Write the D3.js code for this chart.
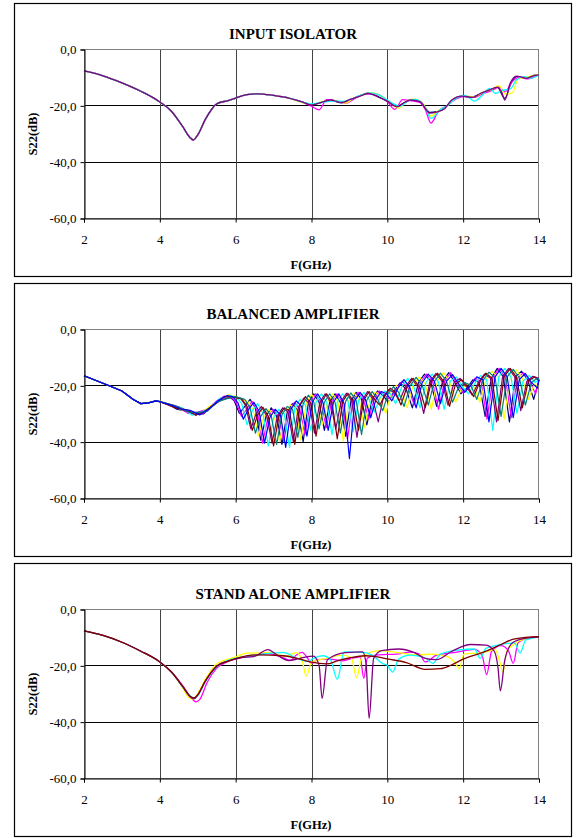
<!DOCTYPE html>
<html>
<head>
<meta charset="UTF-8">
<script src="https://cdn.jsdelivr.net/npm/d3@7/dist/d3.min.js"></script>
<style>
  body { margin: 0; background: #fff; }
  svg { display: block; }
  .tick text { font-family: "Liberation Serif", "Times New Roman", serif; font-size: 13px; fill: #000; }
  .ttl { font-family: "Liberation Serif", serif; font-weight: bold; font-size: 15px; }
  .lbl { font-family: "Liberation Serif", serif; font-weight: bold; font-size: 12.5px; }
</style>
</head>
<body>
<script>
// axis ticks
var xTicks = [2, 4, 6, 8, 10, 12, 14];
var yTicks = [0, -20, -40, -60];
var titles = ["INPUT ISOLATOR", "BALANCED AMPLIFIER", "STAND ALONE AMPLIFIER"];

// ---- INPUT ISOLATOR: [GHz, dB] ----
var isoCommon = [[2,-7.8],[2.5,-9.5],[3,-12.0],[3.5,-15.0],[4,-18.8],[4.3,-22.0],[4.6,-27.5],[4.8,-31.5],[4.88,-32.3],[5.0,-30.5],[5.2,-25.0],[5.5,-19.5],[5.8,-18.3],[6.0,-17.4],[6.3,-16.2],[6.6,-15.9],[7.0,-16.5],[7.4,-17.4]];
var isoNavy = [[7.8,-19.0],[8.0,-19.8],[8.25,-19.0],[8.5,-18.2],[8.8,-19.1],[9.0,-18.1],[9.3,-16.5],[9.5,-15.7],[9.8,-17.2],[10.0,-18.6],[10.25,-20.4],[10.45,-19.1],[10.65,-18.0],[10.9,-19.0],[11.12,-22.5],[11.3,-22.2],[11.5,-21.2],[11.7,-18.3],[11.95,-16.8],[12.25,-17.0],[12.45,-15.9],[12.7,-14.6],[12.9,-13.5],[13.1,-17.5],[13.25,-12.5],[13.4,-9.8],[13.67,-10.4],[13.85,-9.4],[14.0,-9.1]];
var isoMagenta = [[7.8,-19.1],[8.0,-20.3],[8.2,-21.6],[8.4,-18.0],[8.65,-18.4],[8.9,-19.3],[9.15,-17.5],[9.4,-16.0],[9.65,-15.8],[9.95,-17.8],[10.2,-21.4],[10.4,-18.0],[10.6,-18.3],[10.85,-19.0],[11.0,-21.5],[11.15,-26.3],[11.35,-22.0],[11.55,-20.3],[11.8,-17.8],[12.05,-16.8],[12.3,-17.2],[12.5,-16.0],[12.75,-14.8],[12.95,-13.5],[13.1,-15.2],[13.3,-11.5],[13.5,-10.0],[13.7,-10.6],[14.0,-9.0]];
var isoYellow = [[7.8,-19.2],[8.05,-19.6],[8.3,-18.6],[8.6,-18.3],[8.9,-19.2],[9.1,-17.5],[9.35,-16.2],[9.6,-15.5],[9.85,-17.0],[10.05,-18.8],[10.3,-21.0],[10.5,-18.6],[10.7,-17.8],[10.95,-19.5],[11.15,-23.8],[11.35,-21.8],[11.55,-20.6],[11.75,-17.8],[12.0,-16.6],[12.3,-17.0],[12.5,-15.5],[12.75,-14.3],[12.95,-13.0],[13.1,-16.0],[13.3,-15.5],[13.45,-10.5],[13.65,-10.0],[13.85,-9.5],[14.0,-9.0]];
var isoCyan = [[7.8,-19.0],[8.0,-19.5],[8.25,-19.0],[8.55,-18.5],[8.85,-18.6],[9.05,-17.8],[9.3,-16.4],[9.55,-15.6],[9.9,-17.2],[10.1,-19.0],[10.35,-20.3],[10.55,-18.3],[10.75,-17.9],[11.0,-20.8],[11.15,-24.6],[11.4,-21.5],[11.6,-20.0],[11.8,-17.6],[12.05,-16.5],[12.3,-18.5],[12.5,-16.5],[12.7,-14.0],[12.85,-15.8],[13.0,-14.8],[13.25,-14.1],[13.4,-11.0],[13.6,-9.8],[13.8,-10.4],[14.0,-9.0]];
var isoPurple = [[7.8,-19.0],[8.0,-19.9],[8.2,-19.2],[8.5,-18.1],[8.8,-19.0],[9.0,-18.0],[9.3,-16.6],[9.5,-15.8],[9.8,-17.3],[10.0,-18.5],[10.25,-20.5],[10.45,-19.0],[10.6,-18.1],[10.86,-18.7],[11.12,-22.8],[11.3,-22.4],[11.52,-21.0],[11.7,-18.1],[11.96,-16.7],[12.26,-17.2],[12.45,-15.8],[12.7,-14.5],[12.9,-13.5],[13.02,-15.5],[13.1,-18.1],[13.24,-12.2],[13.4,-9.6],[13.67,-10.4],[13.85,-9.5],[14.0,-9.2]];

// ---- BALANCED AMPLIFIER ----
var balCommon = [[2,-16.6],[2.3,-18.2],[2.6,-19.8],[3.0,-22.0],[3.3,-25.0],[3.5,-26.5],[3.7,-26.2],[3.9,-25.5]];
var balNavy = [[4.0,-25.8],[4.2,-26.5],[4.45,-28.5],[4.7,-29.2],[4.95,-30.5],[5.2,-29],[5.45,-26.5],[5.7,-24.2],[5.82,-23.8],[5.96,-25.5],
  [6.10,-30],[6.24,-27.5],[6.38,-25],[6.52,-28],[6.66,-39.5],[6.80,-31],[6.94,-28],[7.08,-31],[7.22,-41],[7.36,-29.5],[7.50,-26.5],[7.64,-29],[7.78,-40],[7.92,-26],[8.06,-23],[8.20,-26],[8.34,-36],[8.48,-26],[8.62,-23],[8.76,-26],[8.90,-38],[9.04,-25.5],[9.18,-22.5],[9.32,-25],[9.46,-34],[9.60,-25],[9.74,-22],[9.88,-23.5],[10.02,-26],
  [10.18,-22],[10.34,-19],[10.50,-21.5],[10.66,-28],[10.82,-19],[10.98,-16],[11.14,-18.5],[11.30,-27.5],[11.46,-18.5],[11.62,-15.5],[11.78,-19],[11.94,-23],[12.10,-21],[12.26,-18],[12.42,-19],[12.58,-31],[12.74,-17.5],[12.90,-14],[13.06,-17],[13.22,-33],[13.38,-17],[13.54,-15],[13.70,-18],[13.86,-25],[14,-18]];
var balMagenta = [[4.0,-25.8],[4.25,-27],[4.5,-27.8],[4.75,-30],[5.0,-29.5],[5.25,-28.5],[5.5,-25.5],[5.7,-23.8],[5.87,-24],[6.01,-26],
  [6.15,-31],[6.29,-28.5],[6.43,-25.8],[6.57,-29],[6.71,-40.5],[6.85,-31.5],[6.99,-28.5],[7.13,-31],[7.27,-40],[7.41,-29],[7.55,-26],[7.69,-28.5],[7.83,-37.5],[7.97,-26],[8.11,-23],[8.25,-26],[8.39,-35],[8.53,-26],[8.67,-23],[8.81,-26],[8.95,-39],[9.09,-25.5],[9.23,-22.5],[9.37,-25],[9.51,-32],[9.65,-25],[9.79,-22],[9.93,-23.5],[10.07,-25],
  [10.23,-21.5],[10.39,-18.5],[10.55,-21],[10.71,-27],[10.87,-19],[11.03,-16],[11.19,-18.5],[11.35,-28.5],[11.51,-18.5],[11.67,-15.5],[11.83,-19.5],[11.99,-22.5],[12.15,-21],[12.31,-17.5],[12.47,-18.5],[12.63,-32],[12.79,-17],[12.95,-14],[13.11,-17],[13.27,-31.5],[13.43,-17.5],[13.59,-15.5],[13.75,-18.5],[13.91,-23],[14,-18]];
var balYellow = [[4.0,-25.6],[4.3,-26.8],[4.55,-28.6],[4.8,-29.3],[5.05,-30.3],[5.3,-27.5],[5.55,-25.7],[5.8,-23.3],[6.05,-24.2],[6.32,-25.8],[6.46,-28.5],
  [6.60,-38],[6.74,-31.3],[6.88,-28.5],[7.02,-31],[7.16,-40],[7.30,-30],[7.44,-27],[7.58,-28],[7.72,-39.5],[7.86,-26.3],[8.00,-23.2],[8.14,-26],[8.28,-34],[8.42,-26],[8.56,-23],[8.70,-26],[8.84,-40],[8.98,-25.6],[9.12,-22.6],[9.26,-25.3],[9.40,-35],[9.54,-25.2],[9.68,-22.3],[9.82,-24.5],[9.96,-30],[10.10,-22.5],[10.24,-20],[10.38,-22.5],[10.52,-28],
  [10.68,-20],[10.84,-17],[11.00,-19.5],[11.16,-28.5],[11.32,-18.5],[11.48,-15.5],[11.64,-18.5],[11.80,-26],[11.96,-21],[12.12,-19.5],[12.28,-20.5],[12.44,-26],[12.60,-18],[12.76,-15],[12.92,-17],[13.08,-32],[13.24,-17],[13.40,-14.5],[13.56,-17.5],[13.72,-25],[13.88,-19.5],[14,-20.5]];
var balCyan = [[4.0,-25.8],[4.35,-27.5],[4.6,-28.1],[4.85,-30.6],[5.1,-29.5],[5.35,-27.8],[5.6,-24.5],[5.85,-23.6],[6.02,-24.3],[6.16,-26.5],
  [6.30,-34],[6.44,-29],[6.58,-26.5],[6.72,-30],[6.86,-41.5],[7.00,-31.5],[7.14,-28.5],[7.28,-30],[7.42,-42],[7.56,-28],[7.70,-25],[7.84,-27],[7.98,-36],[8.12,-26],[8.26,-23],[8.40,-26],[8.54,-37.5],[8.68,-26],[8.82,-23],[8.96,-25.5],[9.10,-36.5],[9.24,-25.5],[9.38,-22.5],[9.52,-25],[9.66,-29.5],[9.80,-24.5],[9.94,-22],[10.08,-23],[10.22,-26.5],
  [10.38,-20.5],[10.54,-17.5],[10.70,-20.5],[10.86,-28],[11.02,-19],[11.18,-16],[11.34,-18.5],[11.50,-28.5],[11.66,-18.5],[11.82,-17],[11.98,-20.5],[12.14,-23],[12.30,-19.5],[12.46,-16.5],[12.62,-18],[12.78,-36],[12.94,-17],[13.10,-14],[13.26,-17],[13.42,-30],[13.58,-18.5],[13.74,-16.5],[13.90,-19],[14,-18]];
var balPurple = [[4.0,-25.9],[4.4,-27.2],[4.65,-29],[4.9,-29.7],[5.15,-30.2],[5.4,-27],[5.65,-25],[5.9,-24.2],[6.12,-24.5],[6.26,-27],
  [6.40,-35.5],[6.54,-30],[6.68,-27.5],[6.82,-31],[6.96,-40.5],[7.10,-31],[7.24,-28],[7.38,-29.5],[7.52,-40],[7.66,-27.5],[7.80,-24.5],[7.94,-26.5],[8.08,-37],[8.22,-26],[8.36,-23],[8.50,-26],[8.64,-35.5],[8.78,-25.8],[8.92,-22.8],[9.06,-25.5],[9.20,-38.5],[9.34,-25.2],[9.48,-22.2],[9.62,-25],[9.76,-33],[9.90,-24],[10.04,-21.5],[10.18,-22.5],[10.32,-25.5],
  [10.48,-20.5],[10.64,-17.5],[10.80,-20.5],[10.96,-30],[11.12,-18.8],[11.28,-15.8],[11.44,-18.5],[11.60,-27],[11.76,-19],[11.92,-17.5],[12.08,-20.5],[12.24,-23.5],[12.40,-19],[12.56,-16],[12.72,-17.5],[12.88,-33],[13.04,-17],[13.20,-14],[13.36,-17],[13.52,-29],[13.68,-18.5],[13.84,-16.8],[14,-17.5]];
var balDarkRed = [[4.0,-25.8],[4.45,-28.2],[4.7,-28.6],[4.95,-30.6],[5.2,-29],[5.45,-26.8],[5.7,-24],[5.95,-24.3],[6.16,-24.8],[6.30,-27.5],
  [6.44,-36],[6.58,-30.5],[6.72,-27.8],[6.86,-31],[7.00,-41.5],[7.14,-31],[7.28,-28],[7.42,-29],[7.56,-41],[7.70,-27],[7.84,-24],[7.98,-26.3],[8.12,-38],[8.26,-26],[8.40,-23],[8.54,-26],[8.68,-39],[8.82,-25.8],[8.96,-22.8],[9.10,-25.5],[9.24,-36],[9.38,-25.2],[9.52,-22.2],[9.66,-25],[9.80,-27],[9.94,-23.5],[10.08,-21],[10.22,-22.5],[10.36,-27],
  [10.52,-20.5],[10.68,-17.5],[10.84,-20.5],[11.00,-28],[11.16,-18.7],[11.32,-15.7],[11.48,-18.5],[11.64,-27.5],[11.80,-19.5],[11.96,-18],[12.12,-20.5],[12.28,-24],[12.44,-18.7],[12.60,-15.7],[12.76,-17.5],[12.92,-32.5],[13.08,-17],[13.24,-14],[13.40,-17],[13.56,-28],[13.72,-18.5],[13.88,-17],[14,-18.5]];
var balTeal = [[4.0,-25.8],[4.5,-27.6],[4.75,-29.5],[5.0,-29.6],[5.25,-29.2],[5.5,-26],[5.75,-24.8],[6.0,-24],[6.24,-25],[6.38,-28],
  [6.52,-37],[6.66,-31],[6.80,-28.3],[6.94,-31],[7.08,-41],[7.22,-30.5],[7.36,-27.5],[7.50,-28.5],[7.64,-38.5],[7.78,-26.5],[7.92,-23.5],[8.06,-26],[8.20,-35.5],[8.34,-26],[8.48,-23],[8.62,-26],[8.76,-37],[8.90,-25.7],[9.04,-22.7],[9.18,-25.5],[9.32,-37.5],[9.46,-25.2],[9.60,-22.2],[9.74,-24.8],[9.88,-29],[10.02,-23],[10.16,-20.5],[10.30,-22.5],[10.44,-27.5],
  [10.60,-20.2],[10.76,-17.2],[10.92,-20],[11.08,-27],[11.24,-18.7],[11.40,-15.7],[11.56,-18.5],[11.72,-26],[11.88,-20.5],[12.04,-19],[12.20,-20],[12.36,-25],[12.52,-18.3],[12.68,-15.3],[12.84,-17.3],[13.00,-31],[13.16,-17],[13.32,-14.3],[13.48,-17.3],[13.64,-27],[13.80,-19],[13.96,-17.5],[14,-17.8]];
var balBlue = [[4.0,-25.8],[4.3,-27],[4.55,-28.4],[4.8,-28.9],[5.05,-30.5],[5.3,-28.4],[5.55,-25.3],[5.78,-23.6],[5.92,-24],[6.06,-26.2],
  [6.20,-32],[6.34,-28.5],[6.48,-26],[6.62,-29.3],[6.76,-40.5],[6.90,-31.5],[7.04,-28.5],[7.18,-30.5],[7.32,-42],[7.46,-28.5],[7.60,-25.5],[7.74,-27.5],[7.88,-38],[8.02,-26],[8.16,-23],[8.30,-26],[8.44,-36],[8.58,-26],[8.72,-23],[8.86,-26.5],[9.00,-46],[9.14,-25.5],[9.28,-22.5],[9.42,-25],[9.56,-31.5],[9.70,-25],[9.84,-22.2],[9.98,-23],[10.12,-25.5],
  [10.28,-21],[10.44,-18],[10.60,-21],[10.76,-28],[10.92,-19],[11.08,-16],[11.24,-18.5],[11.40,-26.5],[11.56,-18.5],[11.72,-16.2],[11.88,-19.5],[12.04,-22.5],[12.20,-20],[12.36,-17],[12.52,-18],[12.68,-33],[12.84,-17],[13.00,-14],[13.16,-17],[13.32,-31.5],[13.48,-18],[13.64,-15.8],[13.80,-19],[13.96,-21],[14,-18]];

// ---- STAND ALONE AMPLIFIER ----
var stCommon = [[2,-7.8],[2.5,-9.4],[3,-11.8],[3.5,-15.0],[4,-18.8],[4.3,-22.3]];
var stMagenta = [[4.6,-27.2],[4.8,-31],[4.95,-33],[5.05,-32.2],[5.25,-26],[5.5,-21],[5.8,-18.6],[6.1,-17.4],[6.5,-16.5],[6.85,-15.8],[7.2,-17],[7.45,-18.2],[7.6,-16.3],[7.75,-15.4],[7.9,-17.5],[8.0,-19.4],[8.15,-18],[8.5,-17.8],[8.8,-18.4],[9.1,-17.4],[9.28,-17],[9.38,-24.6],[9.47,-17.5],[9.7,-16.4],[10.3,-15.9],[10.6,-15.3],[10.85,-16],[11.0,-18.8],[11.3,-16.4],[11.8,-15.4],[12.3,-14.3],[12.5,-16.5],[12.62,-23.3],[12.75,-15],[13.0,-13],[13.2,-15],[13.32,-19.3],[13.45,-12],[13.8,-10],[14,-9.8]];
var stYellow = [[4.6,-28],[4.75,-31.3],[4.88,-32],[5.0,-30],[5.2,-25],[5.45,-20],[5.7,-18.2],[6.0,-17],[6.3,-15.7],[6.6,-15.6],[6.9,-15.4],[7.3,-16.8],[7.6,-15.5],[7.75,-18.2],[7.86,-23.8],[8.0,-19],[8.4,-17.5],[8.8,-16.4],[9.05,-17.3],[9.19,-24.4],[9.33,-17],[9.8,-14.8],[10.2,-15.3],[10.8,-16.3],[11.2,-16],[11.6,-17],[11.78,-19],[11.9,-21.2],[12.02,-16],[12.5,-15.5],[12.85,-14.5],[12.95,-18],[13.05,-22.5],[13.15,-15],[13.4,-12],[13.8,-10.2],[14,-10]];
var stCyan = [[4.6,-27.6],[4.8,-30.8],[4.9,-31.6],[5.0,-30.8],[5.2,-25.8],[5.5,-20.5],[5.8,-18.2],[6.1,-17.2],[6.5,-16.5],[7.0,-15.6],[7.3,-15.5],[7.55,-17.2],[7.9,-18.6],[8.05,-17.5],[8.3,-16.6],[8.5,-18],[8.68,-25],[8.86,-15.2],[9.36,-15.4],[9.6,-16.4],[9.89,-19.5],[10.0,-20],[10.14,-22.4],[10.3,-17.8],[10.6,-16.4],[11.0,-17.4],[11.2,-19.3],[11.4,-16],[11.9,-14.5],[12.3,-14.2],[12.45,-17.5],[12.6,-14],[13.0,-12.6],[13.35,-12],[13.5,-15.6],[13.65,-11],[14,-10]];
var stPurple = [[4.6,-27.5],[4.8,-31.2],[4.9,-31.9],[5.0,-30.6],[5.2,-25.6],[5.5,-20.2],[5.8,-18.5],[6.1,-17.4],[6.5,-16.8],[6.85,-14.4],[7.1,-16.4],[7.4,-18.3],[7.7,-17.5],[8.05,-16.7],[8.2,-20],[8.28,-31.7],[8.42,-18],[8.9,-15.5],[9.35,-15.2],[9.44,-19.5],[9.52,-38.8],[9.64,-17.5],[9.85,-14.8],[10.3,-14.2],[10.7,-15.4],[11.0,-17.5],[11.3,-18],[11.7,-15],[12.2,-12.6],[12.6,-12.8],[12.82,-15],[12.92,-21],[12.98,-29],[13.1,-18],[13.3,-12],[13.6,-10.5],[14,-10]];
var stDarkRed = [[4.6,-27.4],[4.8,-31],[4.9,-31.6],[5.0,-30.4],[5.2,-25.5],[5.5,-20.3],[5.8,-18.5],[6.0,-17.6],[6.6,-16.3],[7.25,-16.6],[7.7,-17.8],[8.0,-18.9],[8.4,-19.5],[8.7,-18.3],[9.0,-17.4],[9.4,-16.6],[9.7,-16.9],[10.0,-17.7],[10.5,-19],[11.0,-21.4],[11.4,-21.2],[11.7,-19.8],[12.0,-17.8],[12.5,-15.5],[13.0,-12.6],[13.3,-10.8],[13.7,-10],[14,-9.8]];

var svg = d3.select("body").append("svg").attr("width", 577).attr("height", 838);

function drawPanel(top, title, list, curve) {
  var g = svg.append("g");
  var x = d3.scaleLinear().domain([2, 14]).range([84, 539]);
  var y = d3.scaleLinear().domain([-60, 0]).range([top + 215, top + 46]);

  g.append("rect").attr("x", 14.5).attr("y", top + 0.5).attr("width", 557).attr("height", 273)
    .attr("fill", "none").attr("stroke", "#000").attr("stroke-width", 1.2);

  // grid
  g.selectAll(".hg").data([-20, -40]).enter().append("line")
    .attr("x1", 84).attr("x2", 539).attr("y1", d => Math.round(y(d)) + 0.5).attr("y2", d => Math.round(y(d)) + 0.5)
    .attr("stroke", "#000");
  g.selectAll(".vg").data([4, 6, 8, 10, 12]).enter().append("line")
    .attr("y1", y(0)).attr("y2", y(-60)).attr("x1", d => Math.round(x(d)) + 0.5).attr("x2", d => Math.round(x(d)) + 0.5)
    .attr("stroke", "#444");
  g.append("rect").attr("x", 84.5).attr("y", Math.round(y(0)) + 0.5).attr("width", 454).attr("height", Math.round(y(-60)) - Math.round(y(0)))
    .attr("fill", "none").attr("stroke", "#808080");

  var line = d3.line().x(d => x(d[0])).y(d => y(d[1])).curve(curve);
  list.forEach(function (s) {
    g.append("path").datum(s.data).attr("d", line).attr("fill", "none")
      .attr("stroke", s.color).attr("stroke-width", s.w || 1.3).attr("stroke-linejoin", "round");
  });

  var ya = g.append("g").attr("transform", "translate(84.5,0.5)")
    .call(d3.axisLeft(y).tickValues(yTicks).tickSize(4).tickPadding(4)
      .tickFormat(d => d.toFixed(1).replace(".", ",")));
  var xa = g.append("g").attr("transform", "translate(0," + (Math.round(y(-60)) + 0.5) + ")")
    .call(d3.axisBottom(x).tickValues(xTicks).tickSize(4).tickPadding(12));
  [ya, xa].forEach(function (a) {
    a.selectAll("path,line").attr("stroke", "#000");
    a.selectAll("text").attr("font-family", null).attr("font-size", null);
  });

  g.append("text").attr("class", "ttl").attr("x", 293).attr("y", top + 36).attr("text-anchor", "middle").text(title);
  g.append("text").attr("class", "lbl").attr("x", 311).attr("y", top + 266).attr("text-anchor", "middle").text("F(GHz)");
  g.append("text").attr("class", "lbl").attr("transform", "translate(37," + (top + 131) + ") rotate(-90)")
    .attr("text-anchor", "middle").text("S22(dB)");
}

drawPanel(3, titles[0], [
  { data: isoCommon.concat(isoNavy), color: "#000080" },
  { data: isoCommon.concat(isoMagenta), color: "#FF00FF" },
  { data: isoCommon.concat(isoYellow), color: "#FFFF00" },
  { data: isoCommon.concat(isoCyan), color: "#00FFFF" },
  { data: isoCommon.concat(isoPurple), color: "#800080" }
], d3.curveMonotoneX);

drawPanel(283, titles[1], [
  { data: balCommon.concat(balNavy), color: "#000080", w: 1.2 },
  { data: balCommon.concat(balMagenta), color: "#FF00FF", w: 1.2 },
  { data: balCommon.concat(balYellow), color: "#FFFF00", w: 1.2 },
  { data: balCommon.concat(balCyan), color: "#00FFFF", w: 1.2 },
  { data: balCommon.concat(balPurple), color: "#800080", w: 1.2 },
  { data: balCommon.concat(balDarkRed), color: "#800000", w: 1.2 },
  { data: balCommon.concat(balTeal), color: "#008080", w: 1.2 },
  { data: balCommon.concat(balBlue), color: "#0000FF", w: 1.2 }
], d3.curveLinear);

drawPanel(563, titles[2], [
  { data: stCommon.concat(stMagenta), color: "#FF00FF" },
  { data: stCommon.concat(stYellow), color: "#FFFF00" },
  { data: stCommon.concat(stCyan), color: "#00FFFF" },
  { data: stCommon.concat(stPurple), color: "#800080" },
  { data: stCommon.concat(stDarkRed), color: "#800000" }
], d3.curveMonotoneX);
</script>
</body>
</html>
